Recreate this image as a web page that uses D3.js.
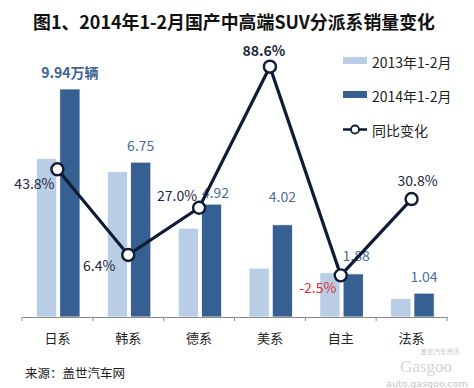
<!DOCTYPE html>
<html><head><meta charset="utf-8">
<script src="https://cdn.jsdelivr.net/npm/d3@7/dist/d3.min.js"></script>
<style>body{margin:0;background:#fff}svg{display:block}</style>
</head><body>
<script>
const categories = ["日系","韩系","德系","美系","自主","法系"];
const sales2013 = [6.91, 6.34, 3.87, 2.13, 1.93, 0.80];
const sales2014 = [9.94, 6.75, 4.92, 4.02, 1.88, 1.04];
const yoyChange = [43.8, 6.4, 27.0, 88.6, -2.5, 30.8];
const barLabels = ["9.94万辆","6.75","4.92","4.02","1.88","1.04"];
const yoyLabels = ["43.8%","6.4%","27.0%","88.6%","-2.5%","30.8%"];
const seriesNames = ["2013年1-2月","2014年1-2月","同比变化"];

const W = 474, H = 388;
const font = "'Noto Sans CJK SC','Microsoft YaHei',sans-serif";
const cLight = "#b9cde5", cDark = "#365f92", cLine = "#0e1c36";

const svg = d3.select("body").append("svg").attr("width", W).attr("height", H)
  .style("font-family", font);

const x = d3.scaleBand().domain(categories).range([22, 447]).paddingInner(0).paddingOuter(0);
const x1 = d3.scaleBand().domain([0,1]).range([14.5, 58]).paddingInner(0.13);
const y = d3.scaleLinear().domain([0, 10]).range([317, 87.6]);
const y2 = d3.scaleLinear().domain([-20, 100]).range([315.4, 40.6]);

// title
svg.append("text").attr("x", 33).attr("y", 28.5)
  .attr("font-size", 18).attr("font-weight", "bold").attr("fill", "#111")
  .attr("textLength", 402).attr("lengthAdjust", "spacingAndGlyphs")
  .text("图1、2014年1-2月国产中高端SUV分派系销量变化");

// bars
const g = svg.append("g");
[sales2013, sales2014].forEach((arr, si) => {
  g.selectAll(".b" + si).data(arr).join("rect")
    .attr("x", (d, i) => x(categories[i]) + x1(si))
    .attr("y", d => y(d))
    .attr("width", x1.bandwidth())
    .attr("height", d => y(0) - y(d))
    .attr("fill", si ? cDark : cLight)
    .attr("stroke", "#fff").attr("stroke-width", 0.8);
});

// axis
const axis = d3.axisBottom(x).tickSize(0).tickFormat("");
const ag = svg.append("g").attr("transform", `translate(0,${y(0)})`).call(axis);
ag.select(".domain").attr("stroke", "#8a8a8a");
const bounds = categories.map(c => x(c)).concat([x.range()[1]]);
ag.selectAll(".tk").data(bounds).join("line")
  .attr("x1", d => d).attr("x2", d => d).attr("y1", 0).attr("y2", 4)
  .attr("stroke", "#8a8a8a");
svg.selectAll(".cat").data(categories).join("text")
  .attr("x", d => x(d) + x.bandwidth() / 2).attr("y", 343)
  .attr("text-anchor", "middle").attr("font-size", 13).attr("fill", "#222")
  .text(d => d);

// bar value labels
const labelDy = [16, 16, 11, 28, 18, 16];
svg.selectAll(".bl").data(sales2014).join("text")
  .attr("x", (d, i) => x(categories[i]) + x1(1) + x1.bandwidth() / 2 + (i === 2 ? 4 : i === 4 ? 3 : 0))
  .attr("y", (d, i) => y(d) - labelDy[i] + 5)
  .attr("text-anchor", "middle").attr("font-size", 14)
  .attr("font-weight", (d, i) => i === 0 ? "bold" : "normal")
  .attr("fill", (d, i) => i === 0 ? "#3d6494" : "#4a6f9e")
  .text((d, i) => barLabels[i]);

// line
const cx = c => x(c) + x.bandwidth() / 2;
const line = d3.line().x((d, i) => cx(categories[i])).y(d => y2(d));
svg.append("path").datum(yoyChange).attr("d", line)
  .attr("fill", "none").attr("stroke", cLine).attr("stroke-width", 3.2)
  .attr("stroke-linejoin", "miter");
svg.selectAll(".pt").data(yoyChange).join("circle")
  .attr("cx", (d, i) => cx(categories[i])).attr("cy", d => y2(d)).attr("r", 6)
  .attr("fill", "#fff").attr("stroke", cLine).attr("stroke-width", 2.4);

// yoy labels (offsets relative to point)
const yoyOff = [[-23, 20], [-29, 16], [-22, -7], [-6, -11], [-23, 18], [6, -13]];
svg.selectAll(".yl").data(yoyChange).join("text")
  .attr("x", (d, i) => cx(categories[i]) + yoyOff[i][0])
  .attr("y", (d, i) => y2(d) + yoyOff[i][1])
  .attr("text-anchor", "middle").attr("font-size", 14)
  .attr("font-weight", (d, i) => i === 3 ? "bold" : "normal")
  .attr("fill", d => d < 0 ? "#e0303a" : "#1d2a3c")
  .text((d, i) => yoyLabels[i]);

// legend
const lg = svg.append("g");
lg.append("rect").attr("x", 343).attr("y", 57).attr("width", 24).attr("height", 7).attr("fill", cLight);
lg.append("rect").attr("x", 343).attr("y", 91).attr("width", 24).attr("height", 7).attr("fill", cDark);
lg.append("line").attr("x1", 343).attr("x2", 367).attr("y1", 129.5).attr("y2", 129.5)
  .attr("stroke", cLine).attr("stroke-width", 2.5);
lg.append("circle").attr("cx", 355).attr("cy", 129.5).attr("r", 4)
  .attr("fill", "#fff").attr("stroke", cLine).attr("stroke-width", 1.8);
lg.selectAll(".lt").data(seriesNames).join("text")
  .attr("x", 372).attr("y", (d, i) => [67.5, 101.5, 135.5][i])
  .attr("font-size", 14).attr("fill", "#222").text(d => d);

// source
svg.append("text").attr("x", 25).attr("y", 378).attr("font-size", 12.5).attr("fill", "#222")
  .text("来源：盖世汽车网");

// watermark
svg.append("text").attr("x", 440).attr("y", 354).attr("font-size", 6.5).attr("fill", "#c9c9c9")
  .attr("text-anchor", "middle").text("盖世汽车资讯");
svg.append("text").attr("x", 426).attr("y", 372).attr("font-size", 17).attr("fill", "#d4d4d4")
  .attr("text-anchor", "middle").attr("font-family", "'Liberation Serif',serif").text("Gasgoo");
svg.append("text").attr("x", 427).attr("y", 386.5).attr("font-size", 9.5).attr("fill", "#c4c4c4")
  .attr("text-anchor", "middle").attr("font-family", "'DejaVu Sans',sans-serif").text("auto.gasgoo.com");
</script>
</body></html>
